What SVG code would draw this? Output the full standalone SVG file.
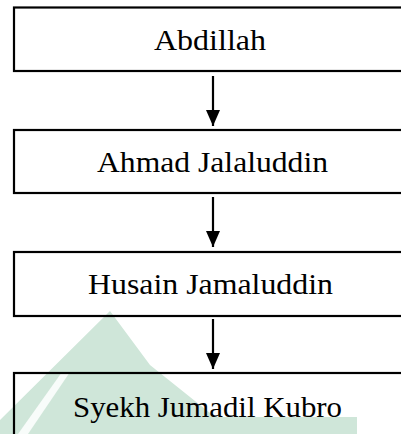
<svg xmlns="http://www.w3.org/2000/svg" width="401" height="434" viewBox="0 0 401 434">
<style>
.box{fill:none;stroke:#000;stroke-width:2.2}
.lbl{font-family:'Liberation Serif','Times New Roman',Times,serif;font-size:30px;fill:#000}
.shaft{stroke:#000;stroke-width:2.2}
.wm{fill:#cfe6d9}
</style>
<defs>
<marker id="ah" viewBox="0 0 16 14" refX="16" refY="7" markerWidth="16" markerHeight="14" markerUnits="userSpaceOnUse" orient="auto">
<path d="M0,0 L16,7 L0,14 Z" fill="#000"/>
</marker>
</defs>
<rect width="401" height="434" fill="#fff"/>
<g id="watermark">
<polygon class="wm" points="110,311 150,365 215,417 357,417 357,434 -10,434 -10,430"/>
<polygon fill="#fff" opacity="0.85" points="62,372 70,372 28,434 18,434"/>
</g>
<g id="node1">
<rect class="box" x="14" y="7.5" width="400" height="63.5"/>
<text class="lbl" x="154" y="50" textLength="112" lengthAdjust="spacingAndGlyphs">Abdillah</text>
</g>
<g id="node2">
<rect class="box" x="14" y="130" width="400" height="63"/>
<text class="lbl" x="97" y="172" textLength="231" lengthAdjust="spacingAndGlyphs">Ahmad Jalaluddin</text>
</g>
<g id="node3">
<rect class="box" x="14" y="252" width="400" height="64"/>
<text class="lbl" x="88" y="294" textLength="245" lengthAdjust="spacingAndGlyphs">Husain Jamaluddin</text>
</g>
<g id="node4">
<rect class="box" x="14" y="373" width="400" height="80"/>
<text class="lbl" x="73" y="417" textLength="269" lengthAdjust="spacingAndGlyphs">Syekh Jumadil Kubro</text>
</g>
<g id="connectors">
<line class="shaft" x1="213" y1="76" x2="213" y2="126" marker-end="url(#ah)"/>
<line class="shaft" x1="213" y1="197" x2="213" y2="247" marker-end="url(#ah)"/>
<line class="shaft" x1="213" y1="319" x2="213" y2="369" marker-end="url(#ah)"/>
</g>
</svg>
